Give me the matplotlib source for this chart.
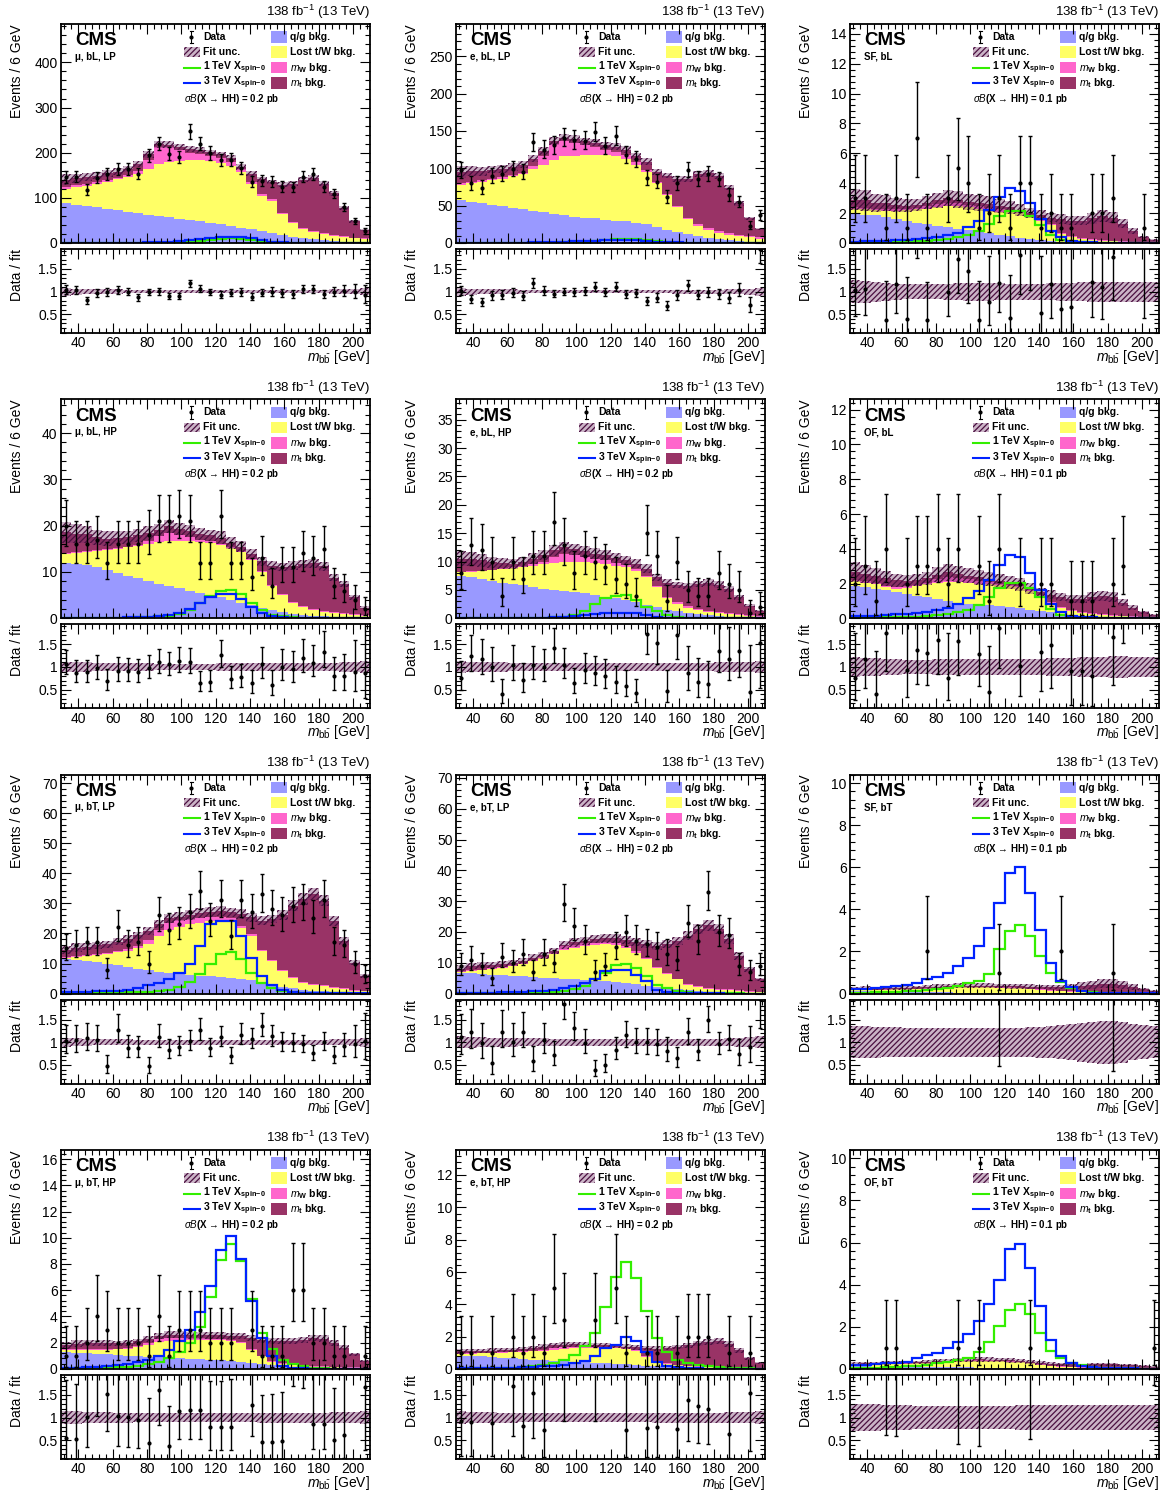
import numpy as np
import matplotlib
matplotlib.use("Agg")
import matplotlib.pyplot as plt
from matplotlib.patches import Rectangle
from matplotlib.ticker import MultipleLocator, AutoMinorLocator, FixedLocator, FixedFormatter

plt.rcParams['font.family'] = ['Liberation Sans', 'DejaVu Sans']
plt.rcParams['mathtext.fontset'] = 'custom'
plt.rcParams['mathtext.rm'] = 'Liberation Sans'
plt.rcParams['mathtext.it'] = 'Liberation Sans:italic'
plt.rcParams['mathtext.bf'] = 'Liberation Sans:bold'
plt.rcParams['hatch.linewidth'] = 0.9

# ---------------- binning ----------------
bin_edges = np.arange(30, 211, 6)          # 30 bins of 6 GeV, 30-210 GeV
bin_centers = bin_edges[:-1] + 3

# ---------------- data (stack levels are cumulative tops) ----------------
# Panel 1: mu, bL, LP
p1_qg = [88,85,82,79,76,72,69,66,63,60,57,54,51,48,45,42,38,34,30,26,22,18,14,11,8,6,4,3,2,1]
p1_lost = [120,124,127,131,135,141,146,153,164,176,179,181,183,183,181,178,170,157,131,105,94,64,44,31,24,20,16,14,11,9]
p1_mw = [124,128,131,135,139,145,151,160,184,212,212,206,200,198,193,188,180,163,135,108,97,67,47,34,27,22,18,15,12,10]
p1_tot = [140,143,146,149,154,158,164,175,196,219,218,212,208,206,201,196,189,168,153,141,135,129,131,140,144,131,110,78,48,28]
p1_data = [146,147,118,144,152,164,163,153,194,220,198,190,247,220,199,183,184,166,136,138,135,125,124,147,152,125,109,79,48,26]
p1_sig1 = [0,0,0,0,0,0,0,0.3,0.5,0.8,1,1.5,2.5,4,6,9,10,9,6,3,1.5,0.8,0.4,0.2,0.1,0,0,0,0,0]
p1_sig3 = [0,0,0,0,0,0,0.5,1,1.5,2,3,4,6,8,10,13,14,13,10,6,3,1.5,1,0.5,0.3,0.2,0.1,0.1,0,0]
p1_unc = [0.09,0.07,0.06,0.05,0.05,0.05,0.04,0.04,0.04,0.035,0.035,0.03,0.03,0.03,0.03,0.03,0.03,0.035,0.035,0.035,0.035,0.04,0.04,0.04,0.04,0.04,0.05,0.05,0.06,0.08]

# Panel 2: e, bL, LP
p2_qg = [57,55,53,51,49,47,45,43,41,39,37,35,34,33,31,30,29,27,25,22,18,15,12,9,7,5,4,3,2,1]
p2_lost = [78,80,82,84,86,89,92,99,104,111,116,117,118,118,118,116,113,104,95,80,64,48,32,23,18,14,11,9,8,6]
p2_mw = [80,82,84,86,88,91,94,103,116,132,136,134,131,128,125,122,118,108,98,82,66,50,34,25,20,16,13,11,10,8]
p2_tot = [95,96,96,98,99,102,105,113,123,137,141,139,136,134,131,129,125,116,109,95,90,86,86,92,93,90,74,53,33,19]
p2_data = [97,80,74,90,92,99,95,135,125,131,141,138,137,149,130,143,118,112,87,82,62,80,98,86,92,85,64,55,23,37]
p2_sig1 = [0,0,0,0,0,0,0,0.2,0.3,0.5,0.8,1.2,2,3,4,5,6,5.5,4,2.5,1.2,0.6,0.3,0.2,0.1,0,0,0,0,0]
p2_sig3 = [0,0,0,0,0.2,0.3,0.5,0.7,1,1.3,1.7,2.2,2.8,3.3,3.8,4,4,3.6,3,2,1.2,0.7,0.4,0.2,0.1,0.1,0,0,0,0]
p2_unc = [0.09,0.07,0.06,0.05,0.05,0.05,0.045,0.04,0.04,0.04,0.035,0.035,0.035,0.035,0.035,0.035,0.035,0.04,0.04,0.04,0.04,0.045,0.045,0.045,0.045,0.045,0.05,0.06,0.07,0.09]

# Panel 3: SF, bL
p3_qg = [1.95,1.9,1.85,1.75,1.6,1.5,1.35,1.25,1.15,1.05,0.95,0.85,0.75,0.65,0.55,0.45,0.35,0.28,0.2,0.15,0.1,0.07,0.05,0.04,0.03,0.02,0.02,0.01,0.01,0.01]
p3_lost = [2.3,2.25,2.2,2.15,2.15,2.2,2.25,2.3,2.4,2.45,2.45,2.4,2.3,2.2,2.1,2.05,2.0,1.85,1.5,1.2,0.6,0.4,0.3,0.2,0.15,0.12,0.1,0.08,0.05,0.03]
p3_mw = [2.4,2.35,2.3,2.25,2.25,2.3,2.35,2.45,2.6,2.7,2.65,2.55,2.45,2.35,2.25,2.15,2.1,1.9,1.55,1.25,0.65,0.45,0.35,0.25,0.2,0.15,0.13,0.1,0.07,0.04]
p3_tot = [2.9,2.85,2.7,2.65,2.55,2.5,2.55,2.7,2.85,3.0,2.9,2.75,2.65,2.6,2.5,2.4,2.2,2.0,1.85,1.7,1.6,1.5,1.5,1.65,1.8,1.7,1.3,0.8,0.4,0.2]
p3_data = [3,3,0,1,3,1,7,1,0,3,5,4,1,2,3,1,4,4,1,2,1,1,0,2,2,3,0,0,1,0]
p3_sig1 = [0.02,0.03,0.04,0.05,0.07,0.09,0.12,0.16,0.22,0.3,0.42,0.55,0.8,1.25,1.8,2.15,2.15,1.8,1.2,0.55,0.2,0.08,0.04,0.02,0.01,0.01,0,0,0,0]
p3_sig3 = [0.1,0.12,0.14,0.16,0.18,0.22,0.27,0.33,0.42,0.55,0.7,1.05,1.5,2.2,3.05,3.66,3.5,2.7,1.6,0.8,0.38,0.15,0.08,0.05,0.03,0.02,0.02,0.01,0.01,0.01]
p3_unc = [0.25,0.24,0.22,0.2,0.18,0.17,0.16,0.16,0.17,0.18,0.19,0.2,0.2,0.2,0.19,0.18,0.18,0.18,0.18,0.19,0.2,0.2,0.21,0.22,0.22,0.22,0.22,0.22,0.22,0.22]

# Panel 4: mu, bL, HP
p4_qg = [12.0,11.8,11.5,11.0,10.4,9.8,9.2,8.6,8.0,7.5,7.0,6.5,6.0,5.5,5.0,4.5,4.0,3.4,2.8,2.2,1.7,1.3,1.0,0.7,0.5,0.4,0.3,0.2,0.1,0.1]
p4_lost = [13.9,14.2,14.4,14.6,14.8,15.0,15.3,15.6,16.0,16.5,16.7,16.8,16.7,16.5,16.2,15.8,15.2,14.3,12.5,10.0,7.0,5.0,3.3,2.4,1.8,1.4,1.1,0.9,0.7,0.5]
p4_mw = [14.1,14.4,14.6,14.8,15.0,15.2,15.5,15.9,16.6,17.8,18.5,18.0,17.5,17.0,16.6,16.1,15.4,14.5,12.7,10.2,7.2,5.2,3.5,2.6,2.0,1.6,1.3,1.1,0.9,0.7]
p4_tot = [18.6,18.3,18.1,17.5,17.2,17.4,17.5,17.9,18.4,19.1,19.9,19.3,18.8,18.3,17.9,17.4,16.2,15.5,13.9,12.3,11.4,11.0,11.4,11.7,11.9,11.2,8.8,7.4,4.5,2.3]
p4_data = [20,16,16,17,12,16,16,16,18,21,21,22,21,12,12,22,12,12,9,13,7,11,11,14,13,15,7,6,4,2]
p4_sig1 = [0.05,0.05,0.06,0.08,0.1,0.12,0.15,0.2,0.3,0.4,0.6,1.0,1.8,3.3,4.9,6.0,6.2,5.2,3.3,1.8,0.8,0.4,0.2,0.1,0.05,0.05,0.03,0.02,0.01,0.01]
p4_sig3 = [0.06,0.07,0.08,0.1,0.12,0.15,0.2,0.25,0.35,0.5,0.7,1.2,2.0,3.2,4.6,5.3,5.3,4.2,2.5,1.2,0.5,0.2,0.1,0.05,0.02,0.02,0.02,0.02,0.02,0.02]
p4_unc = [0.12,0.11,0.1,0.09,0.09,0.08,0.08,0.08,0.08,0.07,0.07,0.07,0.07,0.07,0.07,0.08,0.08,0.08,0.08,0.08,0.08,0.08,0.08,0.08,0.08,0.09,0.09,0.1,0.11,0.13]

# Panel 5: e, bL, HP
p5_qg = [7.5,7.3,7.0,6.6,6.3,6.0,5.8,5.5,5.2,5.0,4.8,4.6,4.4,4.1,3.8,3.5,3.2,2.8,2.4,2.0,1.5,1.2,0.9,0.7,0.5,0.4,0.3,0.2,0.15,0.1]
p5_lost = [8.1,8.2,8.3,8.5,8.7,8.9,9.1,9.3,9.5,9.8,10.0,10.0,9.9,9.8,9.6,9.3,9.0,8.4,7.3,5.5,3.6,2.6,1.9,1.4,1.1,0.9,0.7,0.6,0.4,0.3]
p5_mw = [8.2,8.3,8.4,8.6,8.8,9.0,9.2,9.5,10.0,10.8,11.3,11.1,10.8,10.5,10.2,9.8,9.4,8.7,7.5,5.7,3.8,2.8,2.1,1.6,1.3,1.1,0.9,0.8,0.6,0.4]
p5_tot = [10.5,10.4,10.2,9.9,9.7,9.6,9.9,10.5,11.1,12.0,12.5,12.2,11.8,11.4,11.1,10.6,10.2,9.6,8.7,7.2,6.3,5.9,5.7,6.0,6.3,5.9,5.1,3.7,2.2,1.3]
p5_data = [8,13,12,10,4,10,7,11,11,17,13,8,11,10,9,7,6,4,15,11,3,10,5,4,4,8,6,5,1,2]
p5_sig1 = [0.02,0.02,0.03,0.03,0.04,0.05,0.06,0.08,0.1,0.15,0.25,0.6,1.3,2.5,3.6,4.0,4.1,3.3,2.0,1.2,0.5,0.2,0.1,0.05,0.03,0.02,0.01,0,0,0]
p5_sig3 = [0.02,0.03,0.03,0.04,0.05,0.06,0.07,0.09,0.12,0.15,0.2,0.35,0.5,0.7,0.9,1.0,1.0,0.85,0.55,0.3,0.12,0.06,0.03,0.02,0.01,0.01,0,0,0,0]
p5_unc = [0.13,0.12,0.11,0.1,0.1,0.09,0.09,0.09,0.08,0.08,0.08,0.08,0.08,0.08,0.08,0.08,0.08,0.08,0.09,0.09,0.09,0.09,0.09,0.09,0.09,0.1,0.1,0.11,0.12,0.14]

# Panel 6: OF, bL
p6_qg = [1.85,1.8,1.7,1.6,1.5,1.4,1.3,1.2,1.1,1.0,0.9,0.85,0.8,0.75,0.7,0.65,0.6,0.5,0.42,0.35,0.27,0.2,0.15,0.1,0.08,0.06,0.05,0.04,0.03,0.02]
p6_lost = [2.15,2.05,1.95,1.8,1.7,1.75,1.85,1.95,2.05,2.1,2.1,2.05,2.0,1.95,1.9,1.85,1.8,1.55,1.3,0.9,0.6,0.4,0.3,0.25,0.2,0.15,0.12,0.1,0.08,0.05]
p6_mw = [2.23,2.13,2.03,1.88,1.78,1.83,1.93,2.05,2.25,2.35,2.33,2.25,2.15,2.07,2.0,1.93,1.87,1.6,1.35,0.95,0.65,0.45,0.35,0.3,0.25,0.2,0.16,0.13,0.1,0.07]
p6_tot = [2.65,2.55,2.45,2.3,2.2,2.15,2.2,2.3,2.5,2.65,2.55,2.45,2.35,2.25,2.15,2.05,1.95,1.7,1.5,1.35,1.2,1.1,1.1,1.25,1.3,1.2,0.9,0.6,0.35,0.2]
p6_data = [2,3,1,4,0,2,3,3,4,2,4,0,3,1,4,0,2,0,2,2,0,1,1,1,0,2,3,0,0,0]
p6_sig1 = [0.02,0.03,0.04,0.05,0.06,0.08,0.1,0.13,0.18,0.25,0.35,0.5,0.75,1.2,1.75,2.05,2.05,1.75,1.2,0.55,0.2,0.08,0.04,0.02,0.01,0.01,0,0,0,0]
p6_sig3 = [0.12,0.14,0.16,0.18,0.22,0.26,0.32,0.38,0.48,0.6,0.8,1.15,1.58,2.2,3.05,3.65,3.5,2.6,1.6,0.8,0.35,0.15,0.08,0.05,0.03,0.02,0.02,0.01,0.01,0.01]
p6_unc = [0.22,0.2,0.19,0.18,0.17,0.16,0.16,0.16,0.17,0.18,0.18,0.18,0.18,0.18,0.18,0.18,0.18,0.18,0.18,0.19,0.19,0.2,0.21,0.22,0.23,0.24,0.24,0.23,0.22,0.22]

# Panel 7: mu, bT, LP
p7_qg = [11.6,11.3,11.0,10.5,10.0,9.4,8.8,8.3,7.8,7.3,6.9,6.6,6.3,6.0,5.8,5.6,5.3,5.0,4.6,3.8,3.0,2.3,1.8,1.3,1.0,0.8,0.6,0.4,0.3,0.2]
p7_lost = [12.0,12.3,12.6,12.9,13.2,13.7,14.3,15.1,16.5,19.0,21.0,22.3,23.0,23.6,24.0,24.2,23.8,21.8,19.2,14.2,10.8,7.5,5.2,3.6,3.0,2.5,2.0,1.5,1.0,0.7]
p7_mw = [12.3,12.6,12.9,13.2,13.6,14.1,14.8,15.8,17.8,21.0,23.5,24.3,24.8,25.2,25.5,25.6,25.1,22.6,19.7,14.6,11.1,7.8,5.5,3.9,3.3,2.8,2.3,1.8,1.3,0.9]
p7_tot = [14.5,15.3,15.6,16.1,16.4,17.2,18.1,19.4,20.9,23.1,25.0,25.6,26.2,26.8,27.2,27.5,27.0,26.5,25.3,24.2,24.8,26.1,29.2,31.5,33.1,30.9,24.2,17.5,10.3,5.8]
p7_data = [15,16,17,17,8,22,16,17,10,26,21,23,27,34,24,31,19,31,27,33,28,26,29,30,25,31,17,16,10,6]
p7_sig1 = [0.1,0.1,0.15,0.2,0.25,0.3,0.4,0.5,0.6,0.8,1.3,2.2,3.8,6.4,9.7,13.0,13.8,11.4,6.9,3.6,1.9,0.9,0.4,0.2,0.1,0.1,0.05,0.05,0,0]
p7_sig3 = [0.4,0.5,0.6,0.7,0.8,1.0,1.3,1.9,2.7,3.6,4.7,6.9,9.9,15.8,23.1,24,24,19.2,11.9,5.8,2.7,1.1,0.5,0.3,0.2,0.1,0.1,0.05,0.05,0.05]
p7_unc = [0.1,0.09,0.08,0.07,0.07,0.07,0.07,0.06,0.06,0.06,0.06,0.06,0.06,0.06,0.06,0.06,0.06,0.06,0.06,0.06,0.06,0.06,0.06,0.06,0.06,0.06,0.07,0.07,0.08,0.1]

# Panel 8: e, bT, LP
p8_qg = [6.8,6.6,6.4,6.2,6.0,5.8,5.6,5.4,5.2,5.0,4.8,4.6,4.4,4.2,4.0,3.7,3.4,3.0,2.6,2.2,1.8,1.4,1.1,0.8,0.6,0.5,0.4,0.3,0.2,0.1]
p8_lost = [7.0,7.3,7.6,8.0,8.4,9.0,9.5,10.6,11.5,12.8,14.2,14.9,15.5,15.8,16.0,15.8,14.9,13.3,11.3,8.4,6.5,4.6,2.9,2.2,1.6,1.3,1.1,0.9,0.6,0.4]
p8_mw = [7.2,7.5,7.8,8.2,8.6,9.2,9.8,11.0,12.0,13.3,15.4,15.9,16.3,16.5,16.6,16.4,15.5,13.8,11.7,8.7,6.8,4.9,3.2,2.5,1.9,1.6,1.4,1.2,0.9,0.6]
p8_tot = [8.1,8.9,9.2,9.2,9.7,10.0,10.6,11.7,12.5,13.8,15.7,16.6,17.1,17.7,17.9,17.9,17.4,16.8,16.0,15.5,16.0,17.1,18.8,20.9,22.2,20.9,17.7,12.2,7.9,4.6]
p8_data = [9,11,9,5,12,10,13,7,13,10,29,22,17,7,9,15,20,17,16,15,13,11,23,17,33,20,19,9,7,9]
p8_sig1 = [0.05,0.05,0.1,0.1,0.15,0.2,0.25,0.3,0.4,0.6,0.9,1.4,2.4,4.6,6.8,9.2,9.7,8.4,5.7,2.9,1.9,1.0,0.5,0.3,0.2,0.1,0.05,0.05,0,0]
p8_sig3 = [0.2,0.25,0.3,0.35,0.4,0.5,0.6,0.8,1.0,1.3,1.8,2.6,3.5,4.6,7.3,7.8,7.8,6.2,4.0,1.3,0.6,0.3,0.15,0.1,0.05,0.05,0,0,0,0]
p8_unc = [0.13,0.12,0.11,0.1,0.1,0.1,0.09,0.09,0.09,0.08,0.08,0.08,0.08,0.08,0.08,0.08,0.08,0.08,0.08,0.08,0.08,0.08,0.08,0.08,0.08,0.08,0.09,0.1,0.11,0.13]

# Panel 9: SF, bT
p9_qg = [0.1,0.1,0.09,0.09,0.08,0.08,0.07,0.07,0.06,0.06,0.05,0.05,0.05,0.04,0.04,0.04,0.03,0.03,0.03,0.02,0.02,0.02,0.01,0.01,0.01,0.01,0.01,0.01,0,0]
p9_lost = [0.18,0.18,0.18,0.19,0.2,0.21,0.22,0.24,0.26,0.28,0.29,0.3,0.3,0.29,0.28,0.27,0.25,0.22,0.18,0.14,0.1,0.08,0.06,0.05,0.04,0.04,0.03,0.03,0.02,0.01]
p9_mw = [0.19,0.19,0.19,0.2,0.21,0.22,0.23,0.26,0.28,0.3,0.31,0.32,0.32,0.31,0.3,0.29,0.27,0.24,0.2,0.16,0.12,0.1,0.08,0.07,0.06,0.06,0.05,0.04,0.03,0.02]
p9_tot = [0.24,0.25,0.25,0.26,0.27,0.28,0.29,0.31,0.33,0.35,0.37,0.38,0.38,0.37,0.36,0.35,0.34,0.33,0.32,0.31,0.31,0.33,0.37,0.42,0.46,0.47,0.42,0.32,0.2,0.12]
p9_data = [0,0,0,0,0,0,0,2,0,0,0,0,0,0,1,0,0,0,0,0,2,0,0,0,0,1,0,0,0,0]
p9_sig1 = [0.05,0.05,0.06,0.07,0.08,0.1,0.12,0.15,0.2,0.28,0.38,0.48,0.6,0.95,2.14,2.95,3.27,2.74,1.79,0.96,0.54,0.27,0.12,0.06,0.03,0.02,0.01,0.01,0,0]
p9_sig3 = [0.22,0.24,0.25,0.3,0.35,0.43,0.5,0.67,0.8,1.0,1.3,1.7,2.25,3.1,4.3,5.75,6.0,4.8,3.0,1.45,0.62,0.3,0.1,0.05,0.03,0.02,0.02,0.01,0.01,0.01]
p9_unc = [0.35,0.35,0.34,0.33,0.33,0.32,0.32,0.32,0.32,0.32,0.32,0.32,0.32,0.32,0.32,0.32,0.32,0.33,0.34,0.35,0.37,0.4,0.43,0.45,0.47,0.47,0.45,0.4,0.37,0.35]

# Panel 10: mu, bT, HP
p10_qg = [1.3,1.25,1.2,1.15,1.1,1.05,1.0,0.97,0.93,0.9,0.86,0.82,0.78,0.74,0.7,0.66,0.62,0.56,0.48,0.4,0.32,0.25,0.18,0.12,0.09,0.07,0.05,0.04,0.03,0.02]
p10_lost = [1.45,1.45,1.45,1.45,1.45,1.5,1.55,1.7,1.85,2.05,2.15,2.2,2.2,2.2,2.2,2.2,2.15,2.0,1.45,0.95,0.55,0.38,0.28,0.22,0.18,0.15,0.12,0.1,0.08,0.05]
p10_mw = [1.5,1.5,1.5,1.5,1.5,1.55,1.6,1.78,1.97,2.25,2.35,2.35,2.33,2.32,2.3,2.28,2.23,2.06,1.5,1.0,0.6,0.43,0.33,0.27,0.23,0.2,0.17,0.14,0.12,0.08]
p10_tot = [1.8,1.9,1.97,2.0,1.97,1.95,1.97,2.1,2.3,2.5,2.6,2.6,2.55,2.55,2.55,2.55,2.5,2.5,2.35,2.2,2.15,2.1,2.15,2.2,2.35,2.3,2.0,1.6,1.1,0.6]
p10_data = [1,1,2,4,3,2,2,2,1,4,1,3,3,3,2,2,2,0,3,1,1,1,6,6,2,2,1,1,0,1]
p10_sig1 = [0.03,0.04,0.05,0.07,0.09,0.12,0.17,0.25,0.35,0.55,0.85,1.3,2.0,3.2,5.5,8.3,9.5,8.2,5.3,2.7,1.5,0.7,0.35,0.2,0.1,0.05,0.03,0.02,0.01,0.01]
p10_sig3 = [0.08,0.1,0.12,0.15,0.2,0.26,0.36,0.5,0.7,1.0,1.45,2.15,3.0,4.35,6.3,9.1,10.1,8.35,5.2,2.35,0.95,0.25,0.1,0.05,0.03,0.02,0.01,0.01,0,0]
p10_unc = [0.15,0.14,0.13,0.12,0.12,0.11,0.11,0.1,0.1,0.1,0.1,0.1,0.1,0.1,0.1,0.1,0.1,0.1,0.1,0.11,0.11,0.11,0.11,0.11,0.11,0.11,0.12,0.12,0.13,0.15]

# Panel 11: e, bT, HP
p11_qg = [0.82,0.8,0.77,0.74,0.7,0.66,0.62,0.58,0.54,0.5,0.47,0.44,0.41,0.38,0.35,0.32,0.29,0.25,0.21,0.17,0.14,0.11,0.08,0.06,0.05,0.04,0.03,0.02,0.02,0.01]
p11_lost = [0.94,0.95,0.97,0.98,1.0,1.02,1.04,1.08,1.12,1.17,1.22,1.27,1.3,1.32,1.32,1.3,1.25,1.1,0.75,0.45,0.3,0.22,0.17,0.13,0.11,0.09,0.08,0.06,0.05,0.03]
p11_mw = [0.96,0.97,0.99,1.0,1.02,1.05,1.08,1.13,1.2,1.28,1.35,1.38,1.38,1.38,1.37,1.34,1.29,1.14,0.79,0.49,0.34,0.26,0.21,0.17,0.15,0.13,0.11,0.09,0.07,0.05]
p11_tot = [1.08,1.1,1.12,1.13,1.15,1.18,1.22,1.3,1.38,1.45,1.5,1.52,1.5,1.48,1.45,1.42,1.38,1.33,1.28,1.25,1.28,1.35,1.45,1.58,1.68,1.7,1.55,1.15,0.65,0.38]
p11_data = [1,1,0,1,0,2,1,2,1,5,3,0,0,3,0,5,1,0,1,1,0,1,2,2,2,0,1,0,1,0]
p11_sig1 = [0.02,0.03,0.04,0.05,0.06,0.08,0.1,0.15,0.22,0.35,0.55,0.87,1.4,2.2,3.85,5.7,6.6,5.65,3.6,1.9,1.05,0.55,0.35,0.25,0.15,0.1,0.07,0.05,0.03,0.02]
p11_sig3 = [0.03,0.03,0.04,0.05,0.06,0.07,0.09,0.12,0.15,0.2,0.25,0.35,0.5,0.77,1.3,1.45,2.0,1.7,1.05,0.45,0.2,0.1,0.05,0.03,0.02,0.01,0.01,0,0,0]
p11_unc = [0.14,0.13,0.12,0.12,0.11,0.11,0.1,0.1,0.1,0.1,0.1,0.1,0.1,0.1,0.1,0.1,0.1,0.1,0.1,0.11,0.11,0.11,0.11,0.11,0.11,0.11,0.12,0.12,0.13,0.15]

# Panel 12: OF, bT
p12_qg = [0.12,0.12,0.11,0.11,0.1,0.1,0.09,0.09,0.08,0.08,0.07,0.07,0.06,0.06,0.05,0.05,0.04,0.04,0.03,0.03,0.02,0.02,0.02,0.01,0.01,0.01,0.01,0.01,0,0]
p12_lost = [0.2,0.21,0.22,0.23,0.24,0.25,0.26,0.28,0.3,0.33,0.36,0.38,0.39,0.38,0.36,0.34,0.31,0.26,0.2,0.14,0.1,0.08,0.06,0.05,0.04,0.04,0.03,0.03,0.02,0.01]
p12_mw = [0.21,0.22,0.23,0.24,0.25,0.26,0.27,0.3,0.33,0.36,0.39,0.41,0.41,0.4,0.38,0.36,0.33,0.28,0.22,0.16,0.12,0.1,0.08,0.07,0.06,0.06,0.05,0.04,0.03,0.02]
p12_tot = [0.25,0.26,0.27,0.28,0.29,0.3,0.31,0.33,0.36,0.39,0.42,0.44,0.45,0.44,0.42,0.4,0.37,0.33,0.28,0.24,0.22,0.21,0.2,0.21,0.22,0.22,0.2,0.17,0.13,0.1]
p12_data = [0,0,0,1,1,0,0,0,0,0,1,0,1,0,0,0,0,1,0,0,0,0,0,0,0,0,0,0,0,1]
p12_sig1 = [0.04,0.05,0.06,0.07,0.1,0.12,0.15,0.2,0.28,0.35,0.43,0.54,0.8,1.28,2.03,2.82,3.06,2.6,1.7,0.86,0.5,0.3,0.2,0.1,0.06,0.04,0.03,0.02,0.01,0.01]
p12_sig3 = [0.19,0.19,0.22,0.27,0.3,0.35,0.51,0.64,0.75,0.99,1.28,1.66,2.26,3.06,4.2,5.7,5.93,4.77,2.98,1.39,0.59,0.3,0.16,0.08,0.05,0.03,0.02,0.02,0.01,0.01]
p12_unc = [0.3,0.3,0.29,0.28,0.27,0.27,0.26,0.26,0.26,0.26,0.26,0.26,0.26,0.26,0.26,0.26,0.27,0.27,0.28,0.28,0.28,0.28,0.28,0.28,0.28,0.28,0.28,0.28,0.28,0.28]

channel_labels = ['μ, bL, LP', 'e, bL, LP', 'SF, bL',
                  'μ, bL, HP', 'e, bL, HP', 'OF, bL',
                  'μ, bT, LP', 'e, bT, LP', 'SF, bT',
                  'μ, bT, HP', 'e, bT, HP', 'OF, bT']
xsec_labels = ['0.2', '0.2', '0.1'] * 4
y_max = [485, 293, 14.65, 47.3, 38.6, 12.6, 72.8, 71.1, 10.4, 16.7, 13.55, 10.4]
y_major = [100, 50, 2, 10, 5, 2, 10, 10, 2, 2, 2, 2]

panels = [
    (p1_qg, p1_lost, p1_mw, p1_tot, p1_data, p1_sig1, p1_sig3, p1_unc),
    (p2_qg, p2_lost, p2_mw, p2_tot, p2_data, p2_sig1, p2_sig3, p2_unc),
    (p3_qg, p3_lost, p3_mw, p3_tot, p3_data, p3_sig1, p3_sig3, p3_unc),
    (p4_qg, p4_lost, p4_mw, p4_tot, p4_data, p4_sig1, p4_sig3, p4_unc),
    (p5_qg, p5_lost, p5_mw, p5_tot, p5_data, p5_sig1, p5_sig3, p5_unc),
    (p6_qg, p6_lost, p6_mw, p6_tot, p6_data, p6_sig1, p6_sig3, p6_unc),
    (p7_qg, p7_lost, p7_mw, p7_tot, p7_data, p7_sig1, p7_sig3, p7_unc),
    (p8_qg, p8_lost, p8_mw, p8_tot, p8_data, p8_sig1, p8_sig3, p8_unc),
    (p9_qg, p9_lost, p9_mw, p9_tot, p9_data, p9_sig1, p9_sig3, p9_unc),
    (p10_qg, p10_lost, p10_mw, p10_tot, p10_data, p10_sig1, p10_sig3, p10_unc),
    (p11_qg, p11_lost, p11_mw, p11_tot, p11_data, p11_sig1, p11_sig3, p11_unc),
    (p12_qg, p12_lost, p12_mw, p12_tot, p12_data, p12_sig1, p12_sig3, p12_unc),
]

# ---------------- style ----------------
C_QG = '#9999ff'
C_LOST = '#ffff66'
C_MW = '#ff66cc'
C_MT = '#993366'
C_HATCH = '#4a1040'
C_BAND = (0.42, 0.16, 0.38, 0.35)
C_S1 = '#33ee00'
C_S3 = '#0022ff'
HATCH = '//////'


def garwood(n):
    n = np.asarray(n, float)
    nn = np.maximum(n, 1.0)
    lo = np.where(n > 0, nn * (1 - 1 / (9 * nn) - 1 / (3 * np.sqrt(nn))) ** 3, 0.0)
    hi = (n + 1) * (1 - 1 / (9 * (n + 1)) + 1 / (3 * np.sqrt(n + 1))) ** 3
    return lo, hi


def band(a, top, bottom, z):
    a.stairs(top, bin_edges, baseline=bottom, fill=True, facecolor=C_BAND, lw=0, zorder=z)
    a.stairs(top, bin_edges, baseline=bottom, fill=True, facecolor='none',
             edgecolor=C_HATCH, hatch=HATCH, lw=0, zorder=z + 0.01)


def style_axis(a):
    a.set_xlim(30, 210)
    a.set_axisbelow(False)
    a.xaxis.set_major_locator(MultipleLocator(20))
    a.xaxis.set_minor_locator(MultipleLocator(4))
    a.tick_params(which='both', direction='in', top=True, right=True, labelsize=10, pad=2.5)
    a.tick_params(which='major', length=7, width=0.8)
    a.tick_params(which='minor', length=3.5, width=0.8)
    for s in a.spines.values():
        s.set_linewidth(1.3)


def draw_legend(ax, xsec):
    T = ax.transAxes
    rows = [0.94, 0.872, 0.80, 0.73]
    fs = 7.5
    # Data
    x0, y = 0.421, rows[0]
    ax.plot([x0, x0], [y - 0.028, y + 0.028], color='k', lw=0.8, transform=T)
    for yy in (y - 0.028, y + 0.028):
        ax.plot([x0 - 0.005, x0 + 0.005], [yy, yy], color='k', lw=0.8, transform=T)
    ax.plot([x0], [y], 'o', ms=2, color='k', transform=T)
    ax.text(0.46, y, 'Data', transform=T, fontsize=fs, fontweight='bold', va='center')
    # Fit unc
    y = rows[1]
    ax.add_patch(Rectangle((0.398, y - 0.022), 0.052, 0.044, transform=T,
                           facecolor=C_BAND, lw=0))
    ax.add_patch(Rectangle((0.398, y - 0.022), 0.052, 0.044, transform=T,
                           facecolor='none', edgecolor=C_HATCH, hatch=HATCH, lw=0))
    ax.text(0.46, y, 'Fit unc.', transform=T, fontsize=fs, fontweight='bold', va='center')
    # Signals
    y = rows[2]
    ax.plot([0.398, 0.45], [y, y], color=C_S1, lw=1.5, transform=T)
    ax.text(0.46, y, r'1 TeV X$_{\mathbf{spin\!-\!0}}$', transform=T, fontsize=fs,
            fontweight='bold', va='center')
    y = rows[3]
    ax.plot([0.398, 0.45], [y, y], color=C_S3, lw=1.5, transform=T)
    ax.text(0.46, y, r'3 TeV X$_{\mathbf{spin\!-\!0}}$', transform=T, fontsize=fs,
            fontweight='bold', va='center')
    ax.text(0.398, 0.658, r'$\sigma B$(X → HH) = ' + xsec + ' pb', transform=T,
            fontsize=7, fontweight='bold', va='center')
    # right column
    items = [('q/g bkg.', C_QG), ('Lost t/W bkg.', C_LOST),
             (r'$m_{\mathbf{W}}$ bkg.', C_MW), (r'$m_{\mathbf{t}}$ bkg.', C_MT)]
    for (lab, col), y in zip(items, rows):
        ax.add_patch(Rectangle((0.68, y - 0.026), 0.052, 0.052, transform=T,
                               facecolor=col, lw=0))
        ax.text(0.741, y, lab, transform=T, fontsize=fs, fontweight='bold', va='center')


W, H = 1164, 1492
fig = plt.figure(figsize=(W / 100, H / 100), dpi=100)
col_left = [61, 456, 850]
ax_w = 309

for k, (qg, lost, mw, tot, data, s1, s3, unc) in enumerate(panels):
    r, c = divmod(k, 3)
    top = 24 + 375.3 * r
    left = col_left[c]
    ax = fig.add_axes([left / W, 1 - (top + 219) / H, ax_w / W, 219 / H])
    axr = fig.add_axes([left / W, 1 - (top + 309) / H, ax_w / W, 84 / H])

    tot_a = np.array(tot, float)
    unc_a = np.array(unc, float)
    base = np.zeros(len(bin_centers))
    for level, col in ((qg, C_QG), (lost, C_LOST), (mw, C_MW), (tot, C_MT)):
        lv = np.array(level, float)
        ax.stairs(lv, bin_edges, baseline=base, fill=True, facecolor=col, lw=0, zorder=1)
        base = lv
    band(ax, tot_a * (1 + unc_a), tot_a * (1 - unc_a), 1.5)
    ax.stairs(np.array(s1, float), bin_edges, baseline=None, color=C_S1, lw=1.6, zorder=2)
    ax.stairs(np.array(s3, float), bin_edges, baseline=None, color=C_S3, lw=1.6, zorder=2.1)

    n = np.array(data, float)
    lo, hi = garwood(n)
    m = n > 0
    ax.errorbar(bin_centers[m], n[m], yerr=[n[m] - lo[m], hi[m] - n[m]], fmt='o', ms=2,
                color='k', elinewidth=1, capsize=1.5, capthick=1, zorder=3)

    style_axis(ax)
    ax.set_ylim(0, y_max[k])
    ax.yaxis.set_major_locator(MultipleLocator(y_major[k]))
    ax.yaxis.set_minor_locator(AutoMinorLocator(5))
    ax.tick_params(labelbottom=False)
    ax.set_ylabel('Events / 6 GeV', fontsize=10, loc='top')
    ax.yaxis.set_label_coords(-0.12, 1.0)

    ax.text(0.045, 0.962, 'CMS', transform=ax.transAxes, fontsize=13.5, fontweight='bold', va='top')
    ax.text(0.045, 0.85, channel_labels[k], transform=ax.transAxes, fontsize=7,
            fontweight='bold', va='center')
    ax.text(1.0, 1.012, r'138 fb$^{-1}$ (13 TeV)', transform=ax.transAxes, fontsize=9.5,
            ha='right', va='bottom')
    draw_legend(ax, xsec_labels[k])

    # ratio panel
    band(axr, 1 + unc_a, 1 - unc_a, 1)
    ratio = n / tot_a
    axr.errorbar(bin_centers[m], ratio[m], yerr=[(n[m] - lo[m]) / tot_a[m], (hi[m] - n[m]) / tot_a[m]],
                 fmt='o', ms=2, color='k', elinewidth=1, capsize=1.5, capthick=1, zorder=3)
    style_axis(axr)
    axr.set_ylim(0.09, 1.94)
    axr.yaxis.set_major_locator(FixedLocator([0.5, 1.0, 1.5]))
    axr.yaxis.set_major_formatter(FixedFormatter(['0.5', '1', '1.5']))
    axr.yaxis.set_minor_locator(MultipleLocator(0.1))
    axr.set_ylabel('Data / fit', fontsize=10, loc='top')
    axr.yaxis.set_label_coords(-0.12, 1.0)
    axr.text(1.0, -0.33, r'$m_{\mathrm{b\bar{b}}}$ [GeV]', transform=axr.transAxes,
             fontsize=10, ha='right', va='baseline')

fig.savefig('out.png', dpi=100)
